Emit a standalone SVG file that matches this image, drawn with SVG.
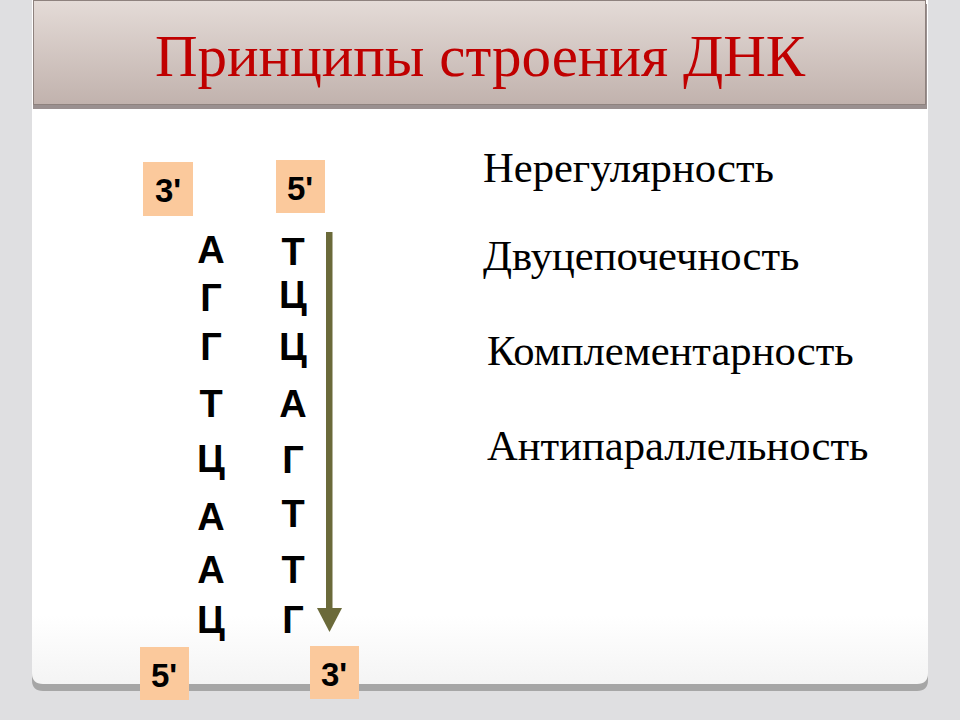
<svg xmlns="http://www.w3.org/2000/svg" width="960" height="720" viewBox="0 0 960 720">
  <defs>
    <linearGradient id="titleGrad" x1="0" y1="0" x2="0" y2="1">
      <stop offset="0" stop-color="#e4dbd7"/>
      <stop offset="1" stop-color="#c1b2ad"/>
    </linearGradient>
    <linearGradient id="panelGrad" x1="0" y1="0" x2="0" y2="1">
      <stop offset="0.9" stop-color="#ffffff"/>
      <stop offset="1" stop-color="#f4f4f4"/>
    </linearGradient>
  </defs>
  <style>
    .base { font-family: "Liberation Sans", Arial, sans-serif; font-weight: bold; font-size: 38px; fill: #000000; text-anchor: middle; }
    .prime { font-family: "Liberation Sans", Arial, sans-serif; font-weight: bold; font-size: 33px; fill: #000000; text-anchor: middle; }
    .box { fill: #fbc99c; }
    .prop { font-family: "Liberation Serif", "Times New Roman", serif; font-size: 42.6px; fill: #000000; }
    .title { font-family: "Liberation Serif", "Times New Roman", serif; font-size: 59px; fill: #c00000; text-anchor: middle; }
  </style>

  <rect x="0" y="0" width="960" height="720" fill="#dfdfe1"/>

  <g id="panel">
    <path d="M32 0 H928 V680 Q928 691 917 691 H43 Q32 691 32 680 Z" fill="#a6a6a6"/>
    <path d="M32 0 H928 V673 Q928 684 917 684 H43 Q32 684 32 673 Z" fill="url(#panelGrad)"/>
  </g>

  <g id="title">
    <rect x="33" y="4" width="894" height="105" fill="#9a9090"/>
    <rect x="33.5" y="0.5" width="892" height="104" fill="url(#titleGrad)" stroke="#8e827e" stroke-width="1"/>
    <text class="title" x="480" y="76">Принципы строения ДНК</text>
  </g>

  <g id="connectors">
    <rect x="326" y="232" width="6.5" height="378" fill="#6b6a3a"/>
    <polygon points="317,608 342,608 329.5,632" fill="#6b6a3a"/>
  </g>

  <g id="label-3prime-top">
    <rect class="box" x="143" y="162" width="50" height="54"/>
    <text class="prime" x="168" y="202">3'</text>
  </g>
  <g id="label-5prime-top">
    <rect class="box" x="276" y="160" width="49" height="53"/>
    <text class="prime" x="300" y="200">5'</text>
  </g>
  <g id="label-5prime-bottom">
    <rect class="box" x="140" y="647" width="49" height="53"/>
    <text class="prime" x="164" y="687">5'</text>
  </g>
  <g id="label-3prime-bottom">
    <rect class="box" x="310" y="646" width="49" height="53"/>
    <text class="prime" x="334" y="686">3'</text>
  </g>

  <g id="strand-left">
    <text class="base" x="211" y="263">А</text>
    <text class="base" x="211" y="311">Г</text>
    <text class="base" x="211" y="360">Г</text>
    <text class="base" x="211" y="417">Т</text>
    <text class="base" x="211" y="472">Ц</text>
    <text class="base" x="211" y="530">А</text>
    <text class="base" x="211" y="583">А</text>
    <text class="base" x="211" y="633">Ц</text>
  </g>

  <g id="strand-right">
    <text class="base" x="293" y="265">Т</text>
    <text class="base" x="293" y="308">Ц</text>
    <text class="base" x="293" y="360">Ц</text>
    <text class="base" x="293" y="417">А</text>
    <text class="base" x="293" y="473">Г</text>
    <text class="base" x="293" y="527">Т</text>
    <text class="base" x="293" y="583">Т</text>
    <text class="base" x="293" y="633">Г</text>
  </g>

  <g id="properties">
    <text class="prop" x="483" y="182">Нерегулярность</text>
    <text class="prop" x="483" y="270">Двуцепочечность</text>
    <text class="prop" x="487" y="365">Комплементарность</text>
    <text class="prop" x="487" y="460">Антипараллельность</text>
  </g>
</svg>
